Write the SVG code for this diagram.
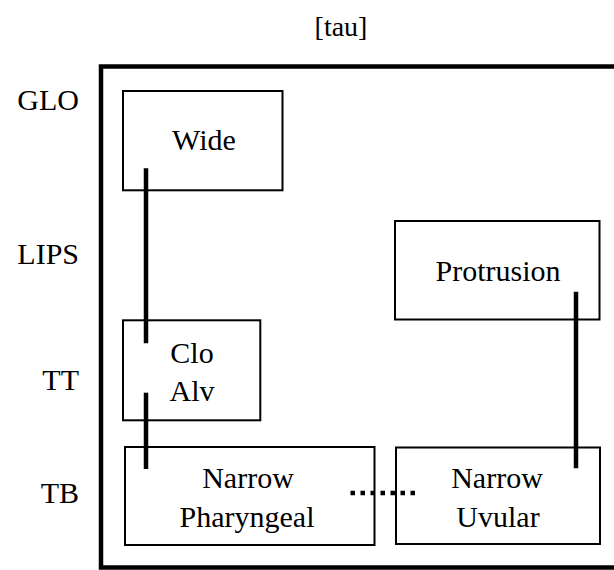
<svg xmlns="http://www.w3.org/2000/svg" width="614" height="570" viewBox="0 0 614 570">
<style>
text{font-family:"Liberation Serif","Times New Roman",serif;font-size:30px;fill:#000}
.lbl{text-anchor:end}
.mid{text-anchor:middle}
.box{fill:none;stroke:#000;stroke-width:2}
.con{stroke:#000;stroke-width:4.5;fill:none}
.dot{stroke:#000;stroke-width:4.5;stroke-dasharray:4.5 5.5;fill:none}
</style>
<rect width="614" height="570" fill="#fff"/>
<text class="mid" x="341" y="36" style="font-size:28px">[tau]</text>
<rect x="101" y="66.5" width="520" height="501" fill="none" stroke="#000" stroke-width="4.5"/>
<g id="tiers">
<text class="lbl" x="79" y="110">GLO</text>
<text class="lbl" x="79" y="264">LIPS</text>
<text class="lbl" x="79" y="390">TT</text>
<text class="lbl" x="79" y="503">TB</text>
</g>
<g id="wide">
<rect class="box" x="123" y="91" width="159.5" height="99.3"/>
<text class="mid" x="204" y="150">Wide</text>
</g>
<g id="cloalv">
<rect class="box" x="123" y="320.3" width="137.3" height="100"/>
<text class="mid" x="192" y="363">Clo</text>
<text class="mid" x="192" y="400.5">Alv</text>
</g>
<g id="protrusion">
<rect class="box" x="395" y="221" width="204.5" height="98.5"/>
<text class="mid" x="498" y="280.5">Protrusion</text>
</g>
<g id="narrowpharyngeal">
<rect class="box" x="125" y="447" width="249.5" height="98"/>
<text class="mid" x="248" y="488">Narrow</text>
<text class="mid" x="247" y="526.5">Pharyngeal</text>
</g>
<g id="narrowuvular">
<rect class="box" x="396" y="447.5" width="204" height="96.5"/>
<text class="mid" x="497" y="487.5">Narrow</text>
<text class="mid" x="498" y="526.5">Uvular</text>
</g>
<g id="connectors">
<line class="con" x1="146" y1="168.3" x2="146" y2="343.3"/>
<line class="con" x1="146" y1="392.7" x2="146" y2="469"/>
<line class="con" x1="576" y1="291.7" x2="576" y2="468.3"/>
<line class="dot" x1="350.5" y1="493" x2="416" y2="493"/>
</g>
</svg>
